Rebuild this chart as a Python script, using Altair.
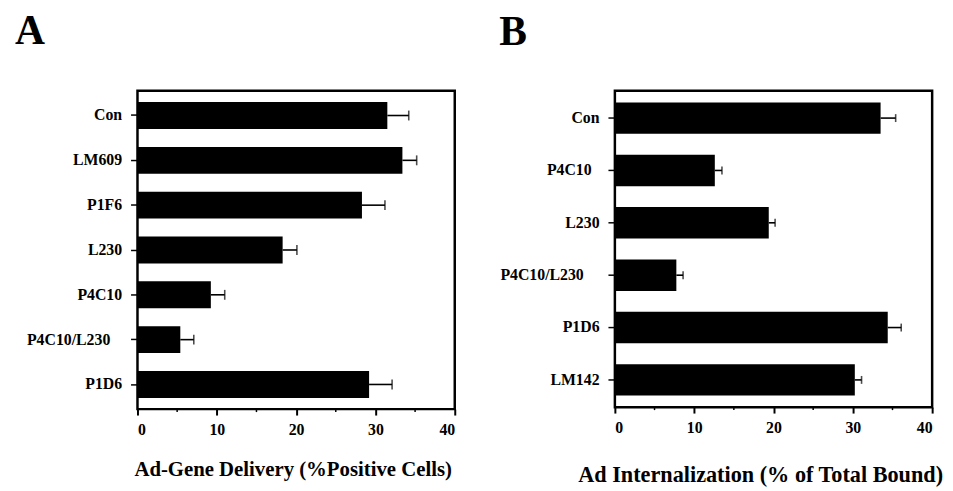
import altair as alt
import pandas as pd

NB = "\u00a0"
ZW = "\u200b"
# Panel A data
cats_a = ["Con", "LM609", "P1F6", "L230", "P4C10", "P4C10/L230" + NB * 3 + ZW, "P1D6"]
vals_a = [31.5, 33.4, 28.3, 18.3, 9.25, 5.4, 29.2]
errs_a = [2.7, 1.8, 2.9, 1.8, 1.75, 1.7, 2.9]

# Panel B data
cats_b = ["Con", "P4C10" + NB * 2 + ZW, "L230", "P4C10/L230" + NB * 4 + ZW, "P1D6", "LM142"]
vals_b = [33.5, 12.6, 19.4, 7.75, 34.4, 30.25]
errs_b = [1.9, 0.9, 0.8, 0.85, 1.7, 0.85]

x_ticks = [0, 10, 20, 30, 40]
minor_ticks = [5, 15, 25, 35]

FONT = "Liberation Serif"


def panel(cats, vals, errs, title, letter, w, h, pad_outer, cap, title_x, title_y,
          title_size, letter_x, letter_y):
    df = pd.DataFrame({"cat": cats, "val": vals,
                       "hi": [v + e for v, e in zip(vals, errs)]})
    xs = alt.Scale(domain=[0, 40], nice=False, zero=True)
    y = alt.Y("cat:N", sort=cats,
              scale=alt.Scale(paddingInner=0.4, paddingOuter=pad_outer),
              axis=alt.Axis(title=None, domain=False, tickSize=7, tickWidth=1.5,
                            tickColor="black", labelPadding=9, labelFont=FONT,
                            labelFontWeight="bold", labelFontSize=16,
                            labelColor="black", labelLimit=300))
    base = alt.Chart(df)
    bars = base.mark_bar(color="black").encode(
        x=alt.X("val:Q", scale=xs,
                axis=alt.Axis(values=x_ticks, title=title, domain=False, grid=False,
                              tickSize=6, tickWidth=2, tickColor="black",
                              labelPadding=7, labelFont=FONT, labelFontWeight="bold",
                              labelFontSize=16, labelColor="black",
                              titleFont=FONT, titleFontWeight="bold",
                              titleFontSize=title_size,
                              titleColor="black", titleX=title_x, titleY=title_y,
                              titleBaseline="alphabetic", titleAlign="center")),
        y=y)
    rule = base.mark_rule(color="black", strokeWidth=1.6).encode(
        x="val:Q", x2="hi:Q", y=y)
    caps = base.mark_tick(color="black", thickness=1.6, size=cap,
                          orient="vertical").encode(x="hi:Q", y=y)
    mdf = pd.DataFrame({"m": minor_ticks})
    minor = alt.Chart(mdf).mark_rule(color="black", strokeWidth=1.5).encode(
        x=alt.X("m:Q", scale=xs), y=alt.value(h), y2=alt.value(h + 3))
    ldf = pd.DataFrame({"t": [letter]})
    let = alt.Chart(ldf).mark_text(font=FONT, fontWeight="bold", fontSize=42,
                                   align="left", baseline="alphabetic",
                                   color="black").encode(
        text="t:N", x=alt.value(letter_x), y=alt.value(letter_y))
    return alt.layer(bars, rule, caps, minor, let).properties(width=w, height=h)


pa = panel(cats_a, vals_a, errs_a, "Ad-Gene Delivery (%Positive Cells)", "A",
           321, 322, 0.25, 10, 157, 67, 21, -124, -47)
pb = panel(cats_b, vals_b, errs_b, "Ad Internalization (% of Total Bound)", "B",
           321, 320, 0.22, 8, 147, 75, 22.5, -117, -46)

chart = alt.hconcat(pa, pb, spacing=162, bounds="flush").configure_view(
    stroke="black", strokeWidth=2.5).properties(
    padding={"left": 5, "top": -2, "right": 0, "bottom": 0},
    background="white")

chart.save("out.html", embed_options={"renderer": "svg", "actions": False})
